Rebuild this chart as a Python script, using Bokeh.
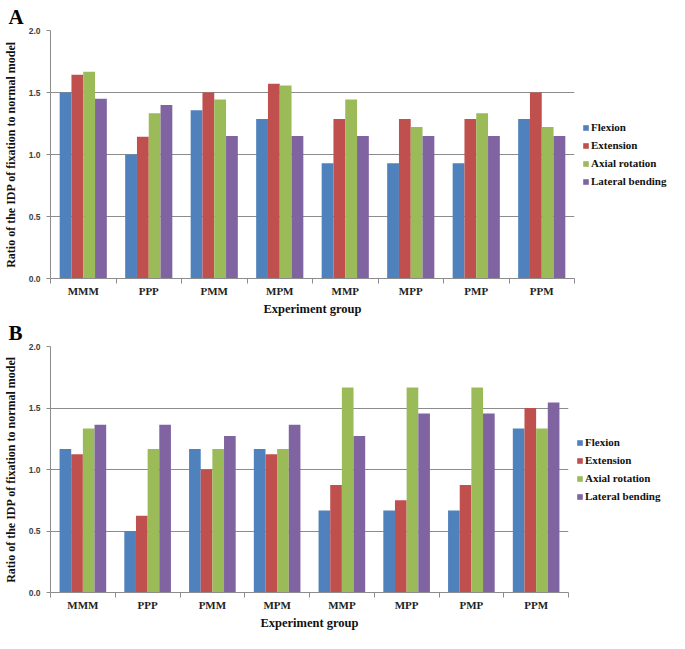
import numpy as np
from bokeh.plotting import figure
from bokeh.layouts import column
from bokeh.models import (Range1d, FixedTicker, CustomJSTickFormatter, NumeralTickFormatter,
                          Legend, LegendItem, ColumnDataSource, Title)
from bokeh.embed import file_html
from bokeh.resources import INLINE

# ---------------- data ----------------
groups = ["MMM", "PPP", "PMM", "MPM", "MMP", "MPP", "PMP", "PPM"]
series = ["Flexion", "Extension", "Axial rotation", "Lateral bending"]
colors = ["#4F81BD", "#C0504D", "#9BBB59", "#8064A2"]

flexion_a = [1.50, 1.00, 1.357, 1.286, 0.929, 0.929, 0.929, 1.286]
extension_a = [1.643, 1.143, 1.50, 1.571, 1.286, 1.286, 1.286, 1.50]
axial_a = [1.667, 1.333, 1.444, 1.556, 1.444, 1.222, 1.333, 1.222]
lateral_a = [1.45, 1.40, 1.15, 1.15, 1.15, 1.15, 1.15, 1.15]

flexion_b = [1.167, 0.50, 1.167, 1.167, 0.667, 0.667, 0.667, 1.333]
extension_b = [1.125, 0.625, 1.00, 1.125, 0.875, 0.75, 0.875, 1.50]
axial_b = [1.333, 1.167, 1.167, 1.167, 1.667, 1.667, 1.667, 1.333]
lateral_b = [1.364, 1.364, 1.273, 1.364, 1.273, 1.455, 1.455, 1.545]

y_ticks = [0.0, 0.5, 1.0, 1.5, 2.0]
x_title = "Experiment group"
y_title = "Ratio of the IDP of fixation to normal model"

SERIF = "Liberation Serif"
SANS = "Liberation Sans"
GRAY = "#8c8c8c"
BAR_W = 0.18


def make_panel(letter, vals, frame_w, frame_h, top, left, right, bottom):
    n = len(groups)
    p = figure(frame_width=frame_w, frame_height=frame_h,
               output_backend="svg", toolbar_location=None,
               x_range=Range1d(0, n), y_range=Range1d(0, 2.0),
               min_border_top=top, min_border_bottom=bottom,
               min_border_left=left, min_border_right=right)
    p.outline_line_color = None
    p.background_fill_color = "white"
    p.border_fill_color = "white"

    centers = np.arange(n) + 0.5
    renderers = []
    for k, (name, v, c) in enumerate(zip(series, vals, colors)):
        xs = centers + (k - 1.5) * BAR_W
        src = ColumnDataSource(dict(x=xs, top=v))
        r = p.vbar(x="x", top="top", width=BAR_W, bottom=0, source=src,
                   fill_color=c, line_color=None)
        renderers.append((name, r))

    # x axis
    xa = p.xaxis[0]
    xa.ticker = FixedTicker(ticks=list(centers), minor_ticks=list(range(n + 1)))
    xa.formatter = CustomJSTickFormatter(args=dict(names=groups),
                                         code="return names[Math.floor(tick)] || '';")
    xa.major_tick_out = 0
    xa.major_tick_in = 0
    xa.minor_tick_out = 5
    xa.minor_tick_in = 0
    xa.minor_tick_line_color = GRAY
    xa.axis_line_color = GRAY
    xa.major_label_text_font = SERIF
    xa.major_label_text_font_style = "bold"
    xa.major_label_text_font_size = "11px"
    xa.major_label_text_color = "#222222"
    xa.major_label_standoff = 1

    xt = Title(text=x_title, align="center", text_font=SERIF, text_font_style="bold",
               text_font_size="12.5px", text_color="#111111", standoff=1, offset=4)
    p.add_layout(xt, "below")

    # y axis
    ya = p.yaxis[0]
    ya.ticker = FixedTicker(ticks=y_ticks, minor_ticks=[])
    ya.formatter = NumeralTickFormatter(format="0.0")
    ya.major_tick_out = 4
    ya.major_tick_in = 0
    ya.major_tick_line_color = GRAY
    ya.minor_tick_line_color = None
    ya.axis_line_color = GRAY
    ya.major_label_text_font = SANS
    ya.major_label_text_font_style = "bold"
    ya.major_label_text_font_size = "8.5px"
    ya.major_label_text_color = "#404040"
    ya.major_label_standoff = 6
    ya.axis_label = y_title
    ya.axis_label_text_font = SERIF
    ya.axis_label_text_font_style = "bold"
    ya.axis_label_text_font_size = "12px"
    ya.axis_label_text_color = "#111111"
    ya.axis_label_standoff = 8

    p.xgrid.visible = False
    p.ygrid.ticker = FixedTicker(ticks=y_ticks)
    p.ygrid.grid_line_color = GRAY
    p.ygrid.grid_line_width = 1

    # panel letter
    p.title.text = letter
    p.title.text_font = SERIF
    p.title.text_font_style = "bold"
    p.title.text_font_size = "21px"
    p.title.text_color = "black"
    p.title.align = "left"
    p.title.offset = -left + 2
    p.title.standoff = 4

    items = [LegendItem(label=nm, renderers=[r]) for nm, r in renderers]
    lg = Legend(items=items, location="center_left")
    lg.glyph_width = 7
    lg.glyph_height = 7
    lg.label_standoff = 2
    lg.label_height = 18
    lg.spacing = 0
    lg.padding = 0
    lg.margin = 8
    lg.border_line_color = None
    lg.background_fill_alpha = 0
    lg.label_text_font = SERIF
    lg.label_text_font_style = "bold"
    lg.label_text_font_size = "11px"
    lg.label_text_color = "#111111"
    p.add_layout(lg, "right")
    return p


pa = make_panel("A", [flexion_a, extension_a, axial_a, lateral_a],
                frame_w=524, frame_h=248, top=24, left=44, right=100, bottom=30)
pb = make_panel("B", [flexion_b, extension_b, axial_b, lateral_b],
                frame_w=518, frame_h=246, top=22, left=44, right=106, bottom=30)

layout = column(pa, pb)
open("out.html", "w").write(file_html(layout, INLINE))
